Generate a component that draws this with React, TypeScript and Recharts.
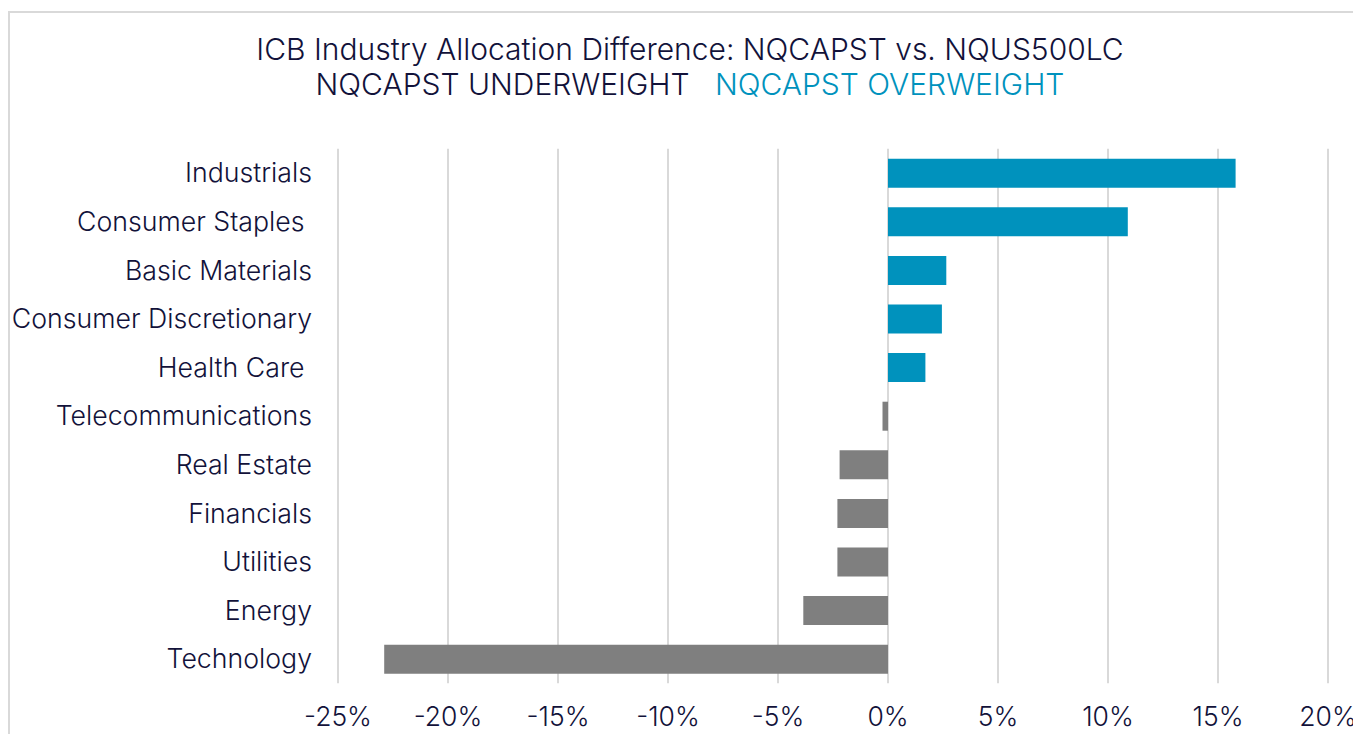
import { Bar, BarChart, CartesianGrid, Cell, XAxis, YAxis } from "recharts";

const industries = [
  "Industrials",
  "Consumer Staples\u00a0",
  "Basic Materials",
  "Consumer Discretionary",
  "Health Care\u00a0",
  "Telecommunications",
  "Real Estate",
  "Financials",
  "Utilities",
  "Energy",
  "Technology",
];

const difference = [
  0.158, 0.109, 0.0265, 0.0245, 0.017, -0.0025, -0.022, -0.023, -0.023,
  -0.0385, -0.229,
];

const xTicks = [-0.25, -0.2, -0.15, -0.1, -0.05, 0, 0.05, 0.1, 0.15, 0.2];

const titleLine = "ICB Industry Allocation Difference: NQCAPST vs. NQUS500LC";
const underLabel = "NQCAPST UNDERWEIGHT";
const overLabel = "NQCAPST OVERWEIGHT";

const BLUE = "#0092bd";
const GRAY = "#7f7f7f";
const INK = "#12123a";
const FONT = "Inter, 'Noto Sans', sans-serif";

const data = industries.map((name, i) => ({ name, value: difference[i] }));

const pct = (v: number) => `${Math.round(v * 100)}%`;

export default function App() {
  return (
    <div
      style={{
        position: "relative",
        width: 1353,
        height: 726,
        overflow: "hidden",
        fontFamily: FONT,
      }}
    >
      {/* frame, runs past the right and bottom edge like the original crop */}
      <div
        style={{
          position: "absolute",
          left: 0,
          top: 3,
          width: 1364,
          height: 760,
          border: "2px solid #d9d9d9",
          boxSizing: "border-box",
        }}
      />
      <div
        style={{
          position: "absolute",
          left: 0,
          top: 24,
          width: 1364,
          textAlign: "center",
          fontSize: 30,
          fontWeight: 300,
          lineHeight: "35px",
          color: INK,
          whiteSpace: "pre",
        }}
      >
        <div>{titleLine}</div>
        <div>
          <span>{underLabel}</span>
          <span>{"   "}</span>
          <span style={{ color: BLUE }}>{overLabel}</span>
        </div>
      </div>
      <div style={{ position: "absolute", left: 0, top: 0 }}>
        <BarChart
          width={1353}
          height={726}
          data={data}
          layout="vertical"
          margin={{ top: 140.7, right: 33, bottom: 0.7, left: 0 }}
          barSize={29}
        >
          <CartesianGrid
            horizontal={false}
            stroke="#d9d9d9"
            strokeWidth={2}
          />
          <XAxis
            type="number"
            domain={[-0.25, 0.2]}
            ticks={xTicks}
            tickFormatter={pct}
            axisLine={false}
            tickLine={false}
            tickSize={0}
            tickMargin={24}
            height={50}
            tick={{ fontSize: 26.5, fontWeight: 300, fill: INK, fontFamily: FONT }}
          />
          <YAxis
            type="category"
            dataKey="name"
            width={330}
            axisLine={false}
            tickLine={false}
            tickSize={0}
            tickMargin={26}
            interval={0}
            tick={{ fontSize: 26.7, fontWeight: 300, fill: INK, fontFamily: FONT }}
          />
          <Bar dataKey="value" isAnimationActive={false}>
            {data.map((d, i) => (
              <Cell key={`bar-${i}`} fill={d.value >= 0 ? BLUE : GRAY} />
            ))}
          </Bar>
        </BarChart>
      </div>
    </div>
  );
}
